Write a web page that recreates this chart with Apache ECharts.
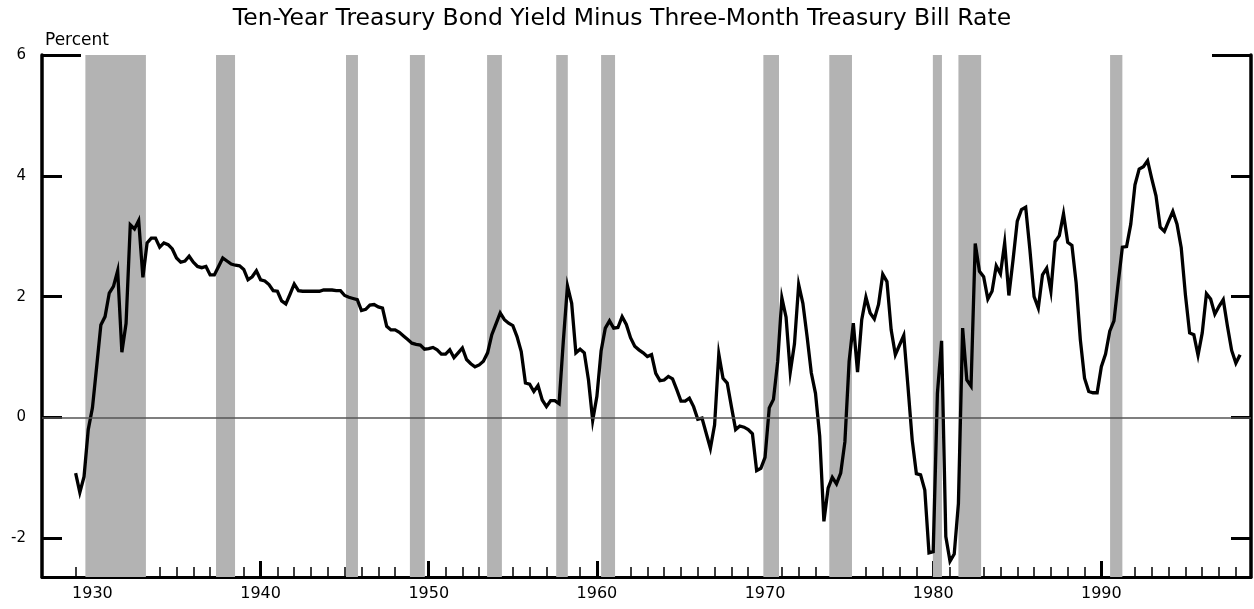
<!DOCTYPE html>
<html>
<head>
<meta charset="utf-8">
<script src="https://cdn.jsdelivr.net/npm/echarts@6/dist/echarts.min.js"></script>
<style>
html,body{margin:0;padding:0;background:#fff;}
#chart{width:1254px;height:609px;}
</style>
</head>
<body>
<div id="chart"></div>
<script>
// Quarterly spread (percent), first value = 1929 Q1
const startYear = 1929;
const spread = [
  -0.92, -1.24, -0.98, -0.20,   // 1929
   0.16,  0.84,  1.53,  1.67,   // 1930
   2.06,  2.17,  2.43,  1.08,   // 1931
   1.56,  3.19,  3.12,  3.26,   // 1932
   2.32,  2.89,  2.97,  2.97,   // 1933
   2.82,  2.89,  2.86,  2.79,   // 1934
   2.64,  2.57,  2.59,  2.67,   // 1935
   2.57,  2.50,  2.48,  2.50,   // 1936
   2.36,  2.36,  2.50,  2.64,   // 1937
   2.59,  2.54,  2.52,  2.51,   // 1938
   2.45,  2.28,  2.33,  2.43,   // 1939
   2.28,  2.26,  2.20,  2.10,   // 1940
   2.09,  1.93,  1.88,  2.04,   // 1941
   2.21,  2.10,  2.09,  2.09,   // 1942
   2.09,  2.09,  2.09,  2.11,   // 1943
   2.11,  2.11,  2.10,  2.10,   // 1944
   2.02,  1.99,  1.97,  1.95,   // 1945
   1.77,  1.79,  1.86,  1.87,   // 1946
   1.83,  1.81,  1.51,  1.45,   // 1947
   1.45,  1.41,  1.35,  1.29,   // 1948
   1.23,  1.21,  1.20,  1.13,   // 1949
   1.14,  1.16,  1.12,  1.05,   // 1950
   1.05,  1.12,  0.99,  1.07,   // 1951
   1.15,  0.96,  0.89,  0.84,   // 1952
   0.87,  0.93,  1.07,  1.37,   // 1953
   1.55,  1.73,  1.62,  1.56,   // 1954
   1.52,  1.34,  1.09,  0.57,   // 1955
   0.55,  0.43,  0.53,  0.29,   // 1956
   0.18,  0.28,  0.28,  0.23,   // 1957
   1.25,  2.18,  1.89,  1.07,   // 1958
   1.13,  1.07,  0.62, -0.05,   // 1959
   0.35,  1.10,  1.48,  1.60,   // 1960
   1.48,  1.49,  1.67,  1.54,   // 1961
   1.32,  1.18,  1.12,  1.07,   // 1962
   1.01,  1.04,  0.73,  0.61,   // 1963
   0.62,  0.68,  0.64,  0.46,   // 1964
   0.27,  0.27,  0.32,  0.18,   // 1965
  -0.03, -0.01, -0.26, -0.51,   // 1966
  -0.12,  1.05,  0.65,  0.57,   // 1967
   0.18, -0.20, -0.14, -0.16,   // 1968
  -0.20, -0.27, -0.88, -0.84,   // 1969
  -0.66,  0.16,  0.30,  0.92,   // 1970
   1.98,  1.66,  0.75,  1.22,   // 1971
   2.20,  1.89,  1.34,  0.74,   // 1972
   0.40, -0.31, -1.72, -1.17,   // 1973
  -0.99, -1.10, -0.92, -0.40,   // 1974
   0.93,  1.56,  0.75,  1.62,   // 1975
   1.99,  1.73,  1.63,  1.87,   // 1976
   2.37,  2.25,  1.45,  1.04,   // 1977
   1.20,  1.36,  0.51, -0.37,   // 1978
  -0.93, -0.95, -1.20, -2.24,   // 1979
  -2.22,  0.40,  1.27, -1.97,   // 1980
  -2.38, -2.26, -1.42,  1.48,   // 1981
   0.62,  0.52,  2.88,  2.42,   // 1982
   2.33,  1.96,  2.09,  2.51,   // 1983
   2.38,  2.89,  2.02,  2.61,   // 1984
   3.25,  3.44,  3.48,  2.78,   // 1985
   2.00,  1.81,  2.36,  2.47,   // 1986
   2.09,  2.91,  3.01,  3.37,   // 1987
   2.90,  2.85,  2.23,  1.29,   // 1988
   0.65,  0.43,  0.41,  0.41,   // 1989
   0.84,  1.05,  1.43,  1.60,   // 1990
   2.22,  2.82,  2.83,  3.20,   // 1991
   3.85,  4.11,  4.15,  4.25,   // 1992
   3.95,  3.67,  3.15,  3.08,   // 1993
   3.25,  3.41,  3.20,  2.81,   // 1994
   2.03,  1.40,  1.37,  1.03,   // 1995
   1.40,  2.05,  1.96,  1.71,   // 1996
   1.84,  1.95,  1.51,  1.11,   // 1997
   0.90,  1.04                  // 1998
];

// Recession periods (shaded), fractional years
const recessionStarts = [1929.58, 1937.35, 1945.08, 1948.88, 1953.47, 1957.58, 1960.25, 1969.9, 1973.82, 1979.98, 1981.5, 1990.52];
const recessionEnds   = [1933.18, 1938.48, 1945.79, 1949.77, 1954.35, 1958.27, 1961.08, 1970.83, 1975.17, 1980.52, 1982.85, 1991.25];

const yLabelValues = [-2, 0, 2, 4, 6];
const yTickValues = [-2, 0, 2, 4];
const yCornerTick = [6];
const decadeYears = [1930, 1940, 1950, 1960, 1970, 1980, 1990];
const firstMinorYear = 1929, lastMinorYear = 1998;
const minorYears = [];
for (let y = firstMinorYear; y <= lastMinorYear; y++) minorYears.push(y);

const titleText = 'Ten-Year Treasury Bond Yield Minus Three-Month Treasury Bill Rate';
const unitText = 'Percent';

const seriesData = spread.map((v, i) => [startYear + i / 4, v]);

const X_MIN = 1927, X_MAX = 1998.9, Y_MIN = -2.64, Y_MAX = 6;
const FONT = 'DejaVu Sans';

function yAx(pos, ticks, len, showLine, showLabel) {
  return {
    type: 'value', position: pos, min: Y_MIN, max: Y_MAX,
    axisLine: { show: showLine, onZero: false, lineStyle: { color: '#000', width: 3.5 } },
    axisTick: { show: true, inside: true, length: len, customValues: ticks, lineStyle: { color: '#000', width: 3 } },
    axisLabel: { show: showLabel, customValues: yLabelValues, margin: 16, color: '#000', fontFamily: FONT, fontSize: 15,
      formatter: v => String(v) },
    splitLine: { show: false }
  };
}

const chart = echarts.init(document.getElementById('chart'), null, { renderer: 'canvas' });
chart.setOption({
  animation: false,
  backgroundColor: '#fff',
  title: [
    { text: titleText, left: 617, top: 2, textAlign: 'center',
      textStyle: { fontFamily: FONT, fontSize: 23.5, fontWeight: 'normal', color: '#000' } },
    { text: unitText, left: 40, top: 27,
      textStyle: { fontFamily: FONT, fontSize: 17, fontWeight: 'normal', color: '#000' } }
  ],
  grid: { left: 42, right: 3, top: 55, bottom: 32 },
  xAxis: [
    { type: 'value', position: 'bottom', min: X_MIN, max: X_MAX,
      axisLine: { show: true, onZero: false, lineStyle: { color: '#000', width: 3 } },
      axisTick: { show: true, inside: true, length: 16, customValues: decadeYears, lineStyle: { color: '#000', width: 3 } },
      axisLabel: { show: true, customValues: decadeYears, margin: 9, color: '#000', fontFamily: FONT, fontSize: 16,
        formatter: v => String(v) },
      splitLine: { show: false } },
    { type: 'value', position: 'bottom', min: X_MIN, max: X_MAX,
      axisLine: { show: false, onZero: false },
      axisTick: { show: true, inside: true, length: 10, customValues: minorYears, lineStyle: { color: '#000', width: 1.5 } },
      axisLabel: { show: false },
      splitLine: { show: false } }
  ],
  yAxis: [
    yAx('left', yTickValues, 20, true, true),
    yAx('right', yTickValues, 20, true, false),
    yAx('left', yCornerTick, 39, false, false),
    yAx('right', yCornerTick, 39, false, false)
  ],
  series: [
    {
      type: 'line', xAxisIndex: 0, yAxisIndex: 0, data: [], z: 1, silent: true,
      markArea: {
        silent: true,
        itemStyle: { color: '#b3b3b3' },
        data: recessionStarts.map((s, i) => [{ xAxis: s }, { xAxis: recessionEnds[i] }])
      },
      markLine: {
        silent: true, symbol: 'none', animation: false,
        label: { show: false },
        lineStyle: { color: '#555', width: 1.5, type: 'solid' },
        data: [{ yAxis: 0 }]
      }
    },
    {
      type: 'line', xAxisIndex: 0, yAxisIndex: 0, data: seriesData, z: 3,
      showSymbol: false, symbol: 'none', smooth: false,
      lineStyle: { color: '#000', width: 3.3, join: 'miter' }
    }
  ]
});
</script>
</body>
</html>
